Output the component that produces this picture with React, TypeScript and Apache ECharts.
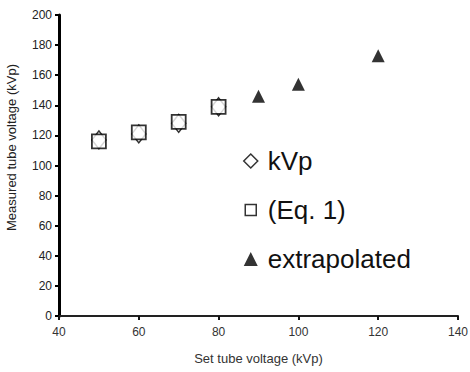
import React, { useEffect, useRef } from "react";
import * as echarts from "echarts";

const xTicks = [40, 60, 80, 100, 120, 140];
const yTicks = [0, 20, 40, 60, 80, 100, 120, 140, 160, 180, 200];
const kvpX = [50, 60, 70, 80];
const kvpY = [117, 121, 128, 139];
const eqX = [50, 60, 70, 80];
const eqY = [116, 122, 129, 139];
const extX = [90, 100, 120];
const extY = [146, 154, 173];
const legendNames = ["kVp", "(Eq. 1)", "extrapolated"];

export default function App() {
  const ref = useRef<HTMLDivElement>(null);
  useEffect(() => {
    if (!ref.current) return;
    const chart = echarts.init(ref.current, null, { renderer: "svg" });
    const font = "Liberation Sans, Arial, sans-serif";
    chart.setOption({
      animation: false,
      backgroundColor: "#fff",
      textStyle: { fontFamily: font },
      grid: { left: 59, right: 12, top: 15, bottom: 56, containLabel: false, outerBoundsMode: "none" },
      legend: {
        orient: "vertical",
        left: 243,
        top: 147,
        padding: 0,
        itemWidth: 14,
        itemHeight: 14,
        itemGap: 21,
        textStyle: { fontSize: 26, color: "#111", fontFamily: font, lineHeight: 28, padding: [0, 0, 0, 5] },
        data: [
          { name: legendNames[0], icon: "diamond", itemStyle: { color: "#fff", borderColor: "#000", borderWidth: 1.5 } },
          { name: legendNames[1], icon: "path://M0 0M14 14M1.5 1.5L12.5 1.5L12.5 12.5L1.5 12.5Z", itemStyle: { color: "#fff", borderColor: "#000", borderWidth: 1.5 } },
          { name: legendNames[2], icon: "triangle", itemStyle: { color: "#000", borderWidth: 0 } },
        ],
      },
      xAxis: {
        type: "value",
        min: xTicks[0],
        max: xTicks[xTicks.length - 1],
        interval: 20,
        name: "Set tube voltage (kVp)",
        nameLocation: "middle",
        nameGap: 36,
        nameTextStyle: { fontSize: 13, color: "#333", fontFamily: font },
        splitLine: { show: false },
        axisLine: { show: true, onZero: false, lineStyle: { color: "#222", width: 2 } },
        axisTick: { show: true, length: 4, lineStyle: { color: "#111", width: 2 } },
        axisLabel: { fontSize: 12, color: "#333", margin: 10, fontFamily: font },
      },
      yAxis: {
        type: "value",
        min: yTicks[0],
        max: yTicks[yTicks.length - 1],
        interval: 20,
        name: "Measured tube voltage (kVp)",
        nameLocation: "middle",
        nameGap: 41,
        nameRotate: 90,
        nameTextStyle: { fontSize: 13, color: "#222", fontFamily: font, padding: [0, 0, 0, 36] },
        splitLine: { show: false },
        axisLine: { show: true, onZero: false, lineStyle: { color: "#000", width: 3 } },
        axisTick: { show: true, length: 4, lineStyle: { color: "#000", width: 2 } },
        axisLabel: { fontSize: 12, color: "#222", margin: 7, fontFamily: font },
      },
      series: [
        {
          name: legendNames[0],
          type: "scatter",
          symbol: "diamond",
          symbolSize: [14, 18],
          itemStyle: { color: "#fff", borderColor: "#000", borderWidth: 1.5 },
          data: kvpX.map((x, i) => [x, kvpY[i]]),
          z: 2,
        },
        {
          name: legendNames[1],
          type: "scatter",
          symbol: "rect",
          symbolSize: 14,
          itemStyle: { color: "#fff", borderColor: "#000", borderWidth: 1.8 },
          data: eqX.map((x, i) => [x, eqY[i]]),
          z: 3,
        },
        {
          name: legendNames[2],
          type: "scatter",
          symbol: "triangle",
          symbolSize: [13, 13],
          itemStyle: { color: "#000" },
          data: extX.map((x, i) => [x, extY[i]]),
          z: 3,
        },
      ],
    });
    return () => chart.dispose();
  }, []);
  return <div ref={ref} style={{ position: "fixed", left: 0, top: 0, width: 470, height: 372 }} />;
}
